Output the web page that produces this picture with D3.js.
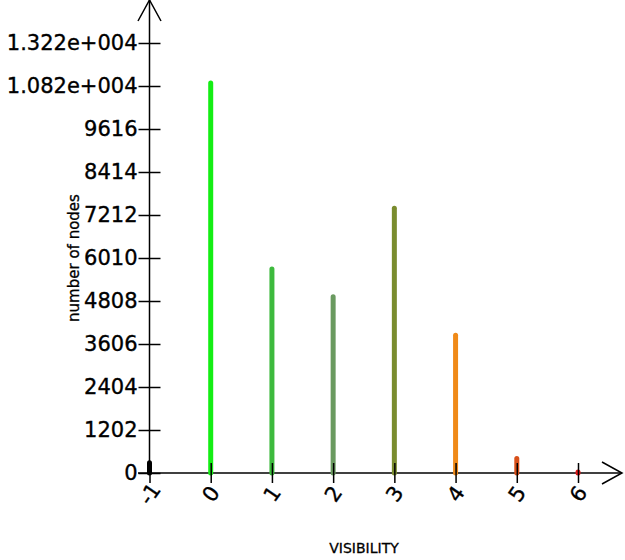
<!DOCTYPE html>
<html><head><meta charset="utf-8">
<script src="https://cdn.jsdelivr.net/npm/d3@7"></script>
<style>body{margin:0;background:#fff}svg{display:block}text{font-family:"DejaVu Sans",sans-serif}</style>
</head><body><svg id="c" width="625" height="560"></svg>
<script>
const categories = [-1, 0, 1, 2, 3, 4, 5, 6];
const values = [290, 10900, 5700, 4930, 7400, 3850, 405, 25];
const colors = ["#000000", "#14ee14", "#3dba3d", "#6a9a60", "#7a8c2e", "#f08a18", "#d8501a", "#e01818"];
const yTickValues = [0, 1202, 2404, 3606, 4808, 6010, 7212, 8414, 9616, 10818, 12020];
const yTickLabels = ["0", "1202", "2404", "3606", "4808", "6010", "7212", "8414", "9616", "1.082e+004", "1.322e+004"];
const xTickLabels = ["-1", "0", "1", "2", "3", "4", "5", "6"];
const xLabel = "VISIBILITY", yLabel = "number of nodes";

const svg = d3.select("#c");
const x = d3.scaleLinear().domain([-1, 6]).range([149.5, 578]);
const y = d3.scaleLinear().domain([0, 1202]).range([473, 430]);

// main axis lines + arrows
svg.append("line").attr("x1", 149.5).attr("x2", 149.5).attr("y1", 0).attr("y2", 473).attr("stroke", "#000").attr("stroke-width", 1.5);
svg.append("path").attr("d", "M138,21L149.5,0L161,21").attr("fill", "none").attr("stroke", "#000").attr("stroke-width", 1.5);
svg.append("line").attr("x1", 138).attr("x2", 622).attr("y1", 473).attr("y2", 473).attr("stroke", "#000").attr("stroke-width", 1.5);
svg.append("path").attr("d", "M602,462L622,473L602,484").attr("fill", "none").attr("stroke", "#000").attr("stroke-width", 1.5);

// bars
svg.selectAll("line.bar").data(categories).join("line")
  .attr("class", "bar")
  .attr("x1", (d) => x(d)).attr("x2", (d) => x(d))
  .attr("y1", y(0)).attr("y2", (d, i) => y(values[i]))
  .attr("stroke", (d, i) => colors[i]).attr("stroke-width", 5).attr("stroke-linecap", "round");

// y axis
const yAxis = d3.axisLeft(y).tickValues(yTickValues).tickSize(0)
  .tickFormat((d, i) => yTickLabels[i]);
const gy = svg.append("g").attr("transform", "translate(149.5,0)").call(yAxis);
gy.select(".domain").remove();
gy.selectAll(".tick text").attr("font-size", 21).attr("x", -12).attr("fill", "#000")
  .attr("stroke", "#000").attr("stroke-width", 0.35)
  .attr("font-family", "DejaVu Sans");
gy.selectAll(".tick").append("line").attr("x1", -11).attr("x2", 11).attr("stroke", "#000").attr("stroke-width", 1.5);

// x axis
const xAxis = d3.axisBottom(x).tickValues(categories).tickSize(0).tickFormat((d, i) => xTickLabels[i]);
const gx = svg.append("g").attr("transform", "translate(0,473)").call(xAxis);
gx.select(".domain").remove();
gx.selectAll(".tick").append("line").attr("y1", -10).attr("y2", 10).attr("stroke", "#000").attr("stroke-width", 1.5);
gx.selectAll(".tick text").attr("font-size", 21).attr("fill", "#000").attr("font-family", "DejaVu Sans")
  .attr("stroke", "#000").attr("stroke-width", 0.35)
  .attr("y", 0).attr("dy", 0)
  .attr("text-anchor", "middle")
  .attr("transform", "translate(0,21) rotate(-55)")
  .attr("dominant-baseline", "central");

// titles
svg.append("text").attr("x", 364).attr("y", 553).attr("text-anchor", "middle").attr("font-size", 14)
  .attr("stroke", "#000").attr("stroke-width", 0.3).text(xLabel);
svg.append("text").attr("transform", "translate(79,258) rotate(-90)").attr("text-anchor", "middle").attr("font-size", 15)
  .attr("stroke", "#000").attr("stroke-width", 0.3).text(yLabel);
</script></body></html>
